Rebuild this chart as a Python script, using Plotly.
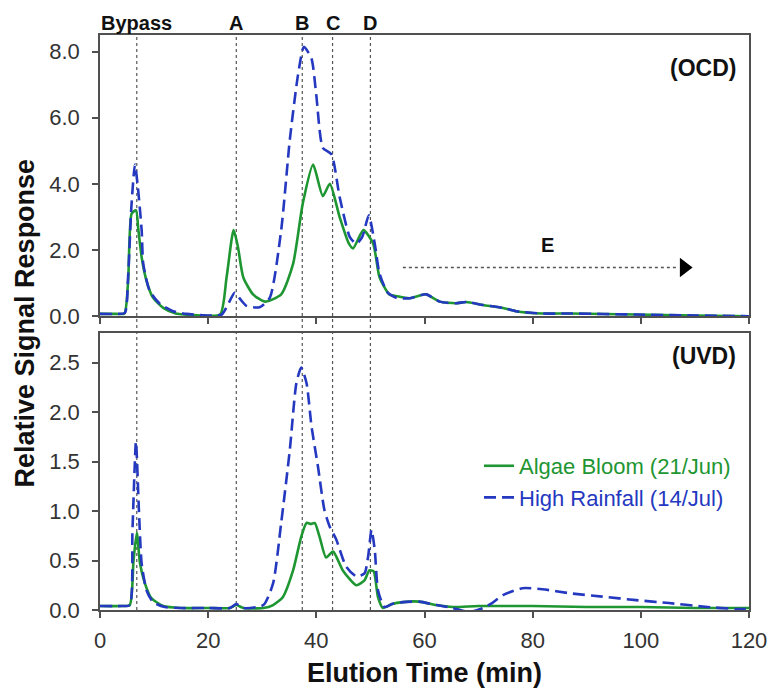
import plotly.graph_objects as go

# ---------------- data ----------------
ocd_algae_x = [0, 3, 4.5, 5.2, 5.85, 6.65, 7.1, 7.7, 8.6, 9.8, 11.7, 14, 18, 22.2, 23.4, 24.7, 25.5, 26.5, 28.3, 30.5,
               33.5, 35.7, 37.5, 39.4, 41.2, 42.5, 44.3, 46.0, 46.8, 48.7, 50.5, 51.7, 53.5, 55, 57.2, 60.3, 62.8,
               65.8, 67.7, 70.8, 74.5, 76.9, 81.8, 86.8, 99, 110, 120]
ocd_algae_y = [0.07, 0.07, 0.08, 1.07, 3.1, 3.2, 2.6, 1.78, 1.07, 0.56, 0.25, 0.08, 0.03, 0.05, 1.17, 2.6, 2.1, 1.17,
               0.66, 0.44, 0.66, 1.58, 3.41, 4.58, 3.63, 4.0, 3.0, 2.2, 2.05, 2.6, 2.2, 1.17, 0.66, 0.6, 0.54, 0.66,
               0.44, 0.39, 0.43, 0.34, 0.25, 0.15, 0.08, 0.08, 0.05, 0.02, 0.0]

ocd_rain_x = [0, 3, 4.6, 5.2, 5.8, 6.46, 7.0, 7.7, 8.0, 9.2, 11.1, 13.5, 16, 20, 22.5, 23.8, 24.9, 26, 27.1, 29.5,
              31.4, 33.5, 35.1, 36.6, 37.7, 39.1, 40.0, 41.2, 42.8, 44.3, 46.2, 47.4, 48.5, 49.7, 50.8, 51.7, 53.2,
              54.8, 57.2, 60.3, 62.8, 65.8, 67.7, 70.8, 74.5, 76.9, 81.8, 86.8, 99, 110, 120]
ocd_rain_y = [0.07, 0.07, 0.1, 1.2, 3.3, 4.58, 3.9, 2.6, 1.58, 0.76, 0.37, 0.15, 0.07, 0.02, 0.05, 0.4, 0.71, 0.5,
              0.31, 0.27, 0.56, 2.6, 5.34, 7.28, 8.14, 7.79, 6.67, 5.09, 4.89, 3.61, 2.39, 2.19, 2.4, 3.05, 2.19, 1.28,
              0.71, 0.56, 0.54, 0.66, 0.44, 0.39, 0.43, 0.34, 0.25, 0.15, 0.08, 0.08, 0.05, 0.02, 0.0]

uvd_algae_x = [0, 4, 5.5, 6.2, 6.8, 7.4, 8.3, 9.5, 11.7, 15, 20, 24, 25.2, 26.5, 30.2, 32, 33.8, 35.7, 37.2, 38.2,
               39.0, 39.7, 40.6, 41.8, 43.1, 44.9, 47.4, 48.9, 49.8, 50.6, 51.4, 52.3, 54, 56, 59, 62.2, 65.2, 70,
               80, 90, 100, 110, 120]
uvd_algae_y = [0.04, 0.04, 0.05, 0.5, 0.78, 0.47, 0.27, 0.12, 0.04, 0.02, 0.02, 0.02, 0.05, 0.02, 0.02, 0.05, 0.13,
               0.40, 0.74, 0.88, 0.87, 0.88, 0.74, 0.53, 0.59, 0.40, 0.25, 0.30, 0.40, 0.39, 0.13, 0.02, 0.06, 0.08,
               0.085, 0.05, 0.03, 0.04, 0.04, 0.03, 0.03, 0.02, 0.02]

uvd_rain_x = [0, 4, 5.5, 6.0, 6.65, 7.2, 7.7, 8.6, 9.8, 12, 15, 20, 24, 25.2, 26.5, 30.2, 32, 33.5, 35.1, 36.3, 37.2,
              38.2, 39.1, 40.3, 41.5, 42.5, 43.7, 45.5, 47.4, 48.9, 49.6, 50.2, 50.8, 51.4, 52.6, 54, 56, 59, 62.2,
              65.2, 68.3, 70.8, 72.5, 74.5, 78.1, 81.8, 86.8, 92.9, 99.1, 105.2, 111.4, 117.5, 120]
uvd_rain_y = [0.04, 0.04, 0.05, 0.8, 1.70, 1.0, 0.47, 0.2, 0.08, 0.03, 0.02, 0.02, 0.02, 0.06, 0.02, 0.05, 0.27, 0.88,
              1.62, 2.29, 2.45, 2.29, 1.86, 1.45, 1.01, 0.84, 0.71, 0.44, 0.34, 0.37, 0.55, 0.81, 0.61, 0.2, 0.03,
              0.06, 0.08, 0.085, 0.05, 0.02, -0.02, 0.02, 0.07, 0.15, 0.22, 0.21, 0.17, 0.135, 0.10, 0.07, 0.035,
              0.01, 0.01]

peak_names = ["Bypass", "A", "B", "C", "D"]
peak_times = [6.8, 25.2, 37.4, 43.0, 50.0]

region_e_start = 56
region_e_end = 106.5
region_e_level = 1.47

x_ticks = [0, 20, 40, 60, 80, 100, 120]
ocd_ticks = [0, 2, 4, 6, 8]
uvd_ticks = [0, 0.5, 1.0, 1.5, 2.0, 2.5]

series_names = ["Algae Bloom (21/Jun)", "High Rainfall (14/Jul)"]

# ---------------- styling ----------------
GREEN = "#1e9632"
BLUE = "#2438c0"
AXIS = "#505050"
FONT = "Liberation Sans, Arial, sans-serif"

fig = go.Figure()

def add(x, y, color, dash, xa, ya, name, show):
    fig.add_trace(go.Scatter(
        x=x, y=y, mode="lines", xaxis=xa, yaxis=ya,
        line=dict(color=color, width=2.6, dash=dash, shape="spline", smoothing=0.6),
        name=f'<span style="color:{color}">{name}</span>', showlegend=show))

add(ocd_algae_x, ocd_algae_y, GREEN, "solid", "x", "y", series_names[0], False)
add(ocd_rain_x, ocd_rain_y, BLUE, "12px,6px", "x", "y", series_names[1], False)
add(uvd_algae_x, uvd_algae_y, GREEN, "solid", "x2", "y2", series_names[0], True)
add(uvd_rain_x, uvd_rain_y, BLUE, "12px,6px", "x2", "y2", series_names[1], True)

# arrow head for region E
fig.add_trace(go.Scatter(x=[region_e_end + 1.5], y=[region_e_level], mode="markers", xaxis="x", yaxis="y",
                         marker=dict(symbol="triangle-right", size=17, color="black"),
                         showlegend=False, hoverinfo="skip"))

shapes = []
for t in peak_times:
    shapes.append(dict(type="line", xref="x", yref="paper", x0=t, x1=t, y0=0, y1=1,
                       line=dict(color="#555555", width=1.2, dash="dot"), layer="below"))
shapes.append(dict(type="line", xref="x", yref="y", x0=region_e_start, x1=region_e_end,
                   y0=region_e_level, y1=region_e_level,
                   line=dict(color="#555555", width=1.5, dash="dot")))

TXT = "#111111"
annotations = []
for n, t in zip(peak_names, peak_times):
    annotations.append(dict(text=f"<b>{n}</b>", x=t, xref="x", y=1, yref="paper", yanchor="bottom",
                            xanchor="center", showarrow=False, font=dict(size=20, color=TXT, family=FONT),
                            yshift=-1))
annotations += [
    dict(text="<b>E</b>", x=82.7, xref="x", y=2.14, yref="y", xanchor="center", showarrow=False,
         font=dict(size=20, color=TXT, family=FONT)),
    dict(text="<b>(OCD)</b>", x=0.983, xref="paper", y=7.5, yref="y", xanchor="right", showarrow=False,
         font=dict(size=23, color=TXT, family=FONT)),
    dict(text="<b>(UVD)</b>", x=0.983, xref="paper", y=2.57, yref="y2", xanchor="right", showarrow=False,
         font=dict(size=23, color=TXT, family=FONT)),
    dict(text="<b>Relative Signal Response</b>", x=-0.1156, xref="paper", y=0.5, yref="paper",
         xanchor="center", yanchor="middle",
         textangle=-90, showarrow=False, font=dict(size=27, color=TXT, family=FONT)),
    dict(text="<b>Elution Time (min)</b>", x=0.5, xref="paper", y=-0.11, yref="paper", yanchor="middle",
         xanchor="center", showarrow=False, font=dict(size=27, color=TXT, family=FONT)),
]

axis_common = dict(showline=True, linecolor=AXIS, linewidth=1.5, mirror=True, ticks="outside", ticklen=6,
                   tickwidth=1.5, tickcolor=AXIS, showgrid=False, zeroline=False,
                   tickfont=dict(size=22, color="#333333", family=FONT))

fig.update_layout(
    width=770, height=691,
    margin=dict(l=100, r=21, t=35, b=81, autoexpand=False),
    paper_bgcolor="white", plot_bgcolor="white",
    font=dict(family=FONT),
    xaxis=dict(domain=[0, 1], anchor="y", range=[0, 120], tickvals=x_ticks, showticklabels=False, **axis_common),
    yaxis=dict(domain=[0.511, 1], anchor="x", range=[0, 8.5], tickvals=ocd_ticks, tickformat=".1f",
               ticklabelstandoff=8, **axis_common),
    xaxis2=dict(domain=[0, 1], anchor="y2", range=[0, 120], tickvals=x_ticks, ticklabelstandoff=4, **axis_common),
    yaxis2=dict(domain=[0, 0.4817], anchor="x2", range=[0, 2.8], tickvals=uvd_ticks, tickformat=".1f",
                ticklabelstandoff=8, **axis_common),
    legend=dict(x=0.584, y=0.287, xanchor="left", yanchor="top", bgcolor="rgba(0,0,0,0)",
                font=dict(size=22, family=FONT), tracegroupgap=0),
    shapes=shapes, annotations=annotations,
)

fig.write_html(
    "out.html",
    config={"displayModeBar": False},
    post_script="document.body.style.margin='0';document.body.style.overflow='hidden';"
                "document.documentElement.style.overflow='hidden';",
)
